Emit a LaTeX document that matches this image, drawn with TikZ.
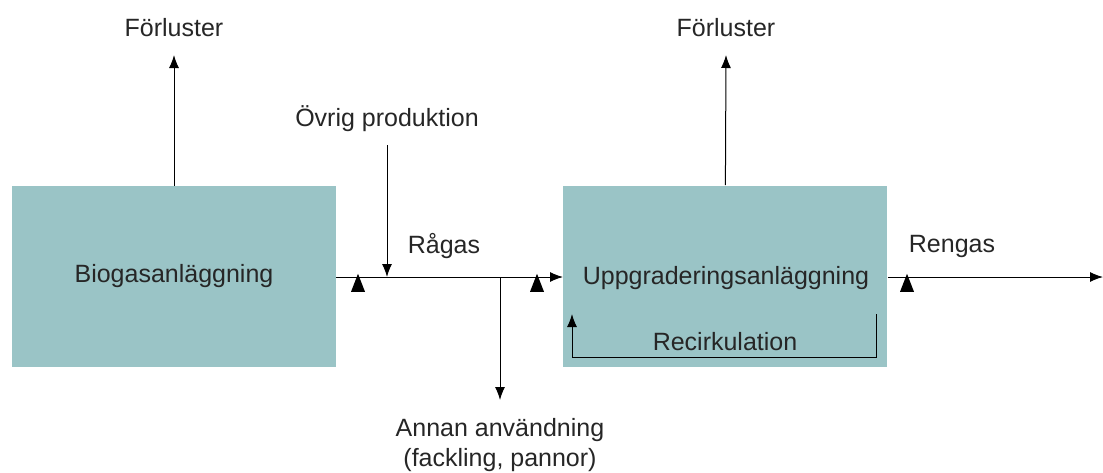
\documentclass[tikz,border=0pt]{standalone}
\usepackage{fontspec}
\setmainfont{Liberation Sans}
\usetikzlibrary{arrows.meta,shapes.geometric}
\definecolor{plantfill}{HTML}{9AC4C6}

\begin{document}
\begin{tikzpicture}
    [x=0.5pt, y=-0.5pt,
    inner sep=0pt,
    font=\fontsize{12.5}{15}\selectfont,
    plant/.style={
        fill=plantfill,
        minimum width=162pt,
        minimum height=90.5pt,
        text=black!85
    },
    line/.style={
        draw, line width=0.5pt, -{Latex[length=6.5pt,width=5pt]}
    },
    label/.style={text=black!85, align=center},
    marker/.style={isosceles triangle, isosceles triangle apex angle=45,
        isosceles triangle stretches, shape border rotate=90, fill=black,
        minimum height=9pt, minimum width=7pt, inner sep=0pt}
    ]
    \useasboundingbox (0,0) rectangle (1103,472);

    % Anläggningar
    \node[plant] (biogas) at (174,276.5) {Biogasanläggning};
    \node[plant, anchor=south west] (upgrade) at (563,367) {};
    \node[label] (upgradetext) at (726,278) {Uppgraderingsanläggning};

    % Texter
    \node[label] (loss1) at (174,28) {Förluster};
    \node[label] (loss2) at (726,28) {Förluster};
    \node[label] (other) at (387,119) {Övrig produktion};
    \node[label] (raw) at (444,246) {Rågas};
    \node[label] (clean) at (952,246) {Rengas};
    \node[label] (recirc) at (725,342) {Recirkulation};
    \node[label] (use) at (500,445) {Annan användning\\(fackling, pannor)};

    % Hjälppunkter
    \coordinate (lossend1) at (174,55);
    \coordinate (lossend2) at (726,55);
    \coordinate (otherstart) at (387,145);
    \coordinate (otherend) at (387,277);
    \coordinate (branch) at (500,277);
    \coordinate (useend) at (500,400);
    \coordinate (outend) at (1103,277);
    \coordinate (recA) at (876,314);
    \coordinate (recB) at (876,357);
    \coordinate (recC) at (572,357);
    \coordinate (recD) at (572,314);

    % Flöden
    \path [line] (biogas.north) -- (lossend1);
    \path [line] (upgrade.north) -- (lossend2);
    \path [line] (otherstart) -- (otherend);
    \path [line] (biogas.east |- branch) -- (upgrade.west |- branch);
    \path [line] (branch) -- (useend);
    \path [line] (upgrade.east |- outend) -- (outend);
    \path [line] (recA) -- (recB) -- (recC) -- (recD);

    % Mätpunkter
    \foreach \x/\name in {358/meas1, 537/meas2, 907/meas3}{
        \node[marker] (\name) at (\x,287) {};
    }
\end{tikzpicture}
\end{document}
